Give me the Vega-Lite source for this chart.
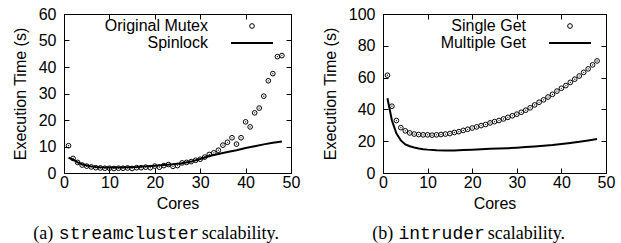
{
  "$schema": "https://vega.github.io/schema/vega-lite/v6.json",
  "padding": {"left": 11, "top": 5, "right": 5, "bottom": 0},
  "spacing": 20,
  "background": "white",
  "resolve": {"scale": {"color": "independent"}, "legend": {"color": "independent"}},
  "config": {
    "font": "Liberation Sans",
    "view": {"stroke": "black", "strokeWidth": 1},
    "axis": {
      "grid": false,
      "domainColor": "black",
      "tickColor": "black",
      "labelColor": "black",
      "titleColor": "black",
      "labelFont": "Liberation Sans",
      "titleFont": "Liberation Sans",
      "labelFontSize": 16,
      "titleFontSize": 16,
      "titleFontWeight": "normal",
      "tickSize": -5,
      "labelPadding": 13,
      "labelFlush": false,
      "labelOverlap": false
    },
    "axisX": {"labelPadding": 6},
    "legend": {
      "labelFont": "Liberation Sans",
      "labelFontSize": 16,
      "labelColor": "black",
      "labelAlign": "right",
      "labelOffset": -52,
      "padding": 0,
      "rowPadding": 1,
      "symbolSize": 1764,
      "symbolType": "stroke",
      "title": null
    },
    "title": {
      "orient": "bottom",
      "anchor": "middle",
      "frame": "bounds",
      "font": "Liberation Serif",
      "fontSize": 18,
      "fontWeight": "normal",
      "color": "black",
      "offset": 14,
      "subtitleFont": "Liberation Mono",
      "subtitleFontSize": 18,
      "subtitleColor": "black",
      "subtitlePadding": -18
    }
  },
  "datasets": {
    "sc_mutex": [
      {"cores": 1, "time": 10.3, "series": "Original Mutex"},
      {"cores": 2, "time": 5.5, "series": "Original Mutex"},
      {"cores": 3, "time": 4.0, "series": "Original Mutex"},
      {"cores": 4, "time": 3.0, "series": "Original Mutex"},
      {"cores": 5, "time": 2.6, "series": "Original Mutex"},
      {"cores": 6, "time": 2.3, "series": "Original Mutex"},
      {"cores": 7, "time": 2.0, "series": "Original Mutex"},
      {"cores": 8, "time": 1.9, "series": "Original Mutex"},
      {"cores": 9, "time": 1.8, "series": "Original Mutex"},
      {"cores": 10, "time": 1.8, "series": "Original Mutex"},
      {"cores": 11, "time": 1.7, "series": "Original Mutex"},
      {"cores": 12, "time": 1.8, "series": "Original Mutex"},
      {"cores": 13, "time": 1.8, "series": "Original Mutex"},
      {"cores": 14, "time": 1.9, "series": "Original Mutex"},
      {"cores": 15, "time": 1.7, "series": "Original Mutex"},
      {"cores": 16, "time": 2.0, "series": "Original Mutex"},
      {"cores": 17, "time": 2.0, "series": "Original Mutex"},
      {"cores": 18, "time": 2.2, "series": "Original Mutex"},
      {"cores": 19, "time": 2.0, "series": "Original Mutex"},
      {"cores": 20, "time": 2.6, "series": "Original Mutex"},
      {"cores": 21, "time": 2.2, "series": "Original Mutex"},
      {"cores": 22, "time": 2.8, "series": "Original Mutex"},
      {"cores": 23, "time": 3.2, "series": "Original Mutex"},
      {"cores": 24, "time": 2.5, "series": "Original Mutex"},
      {"cores": 25, "time": 2.8, "series": "Original Mutex"},
      {"cores": 26, "time": 3.8, "series": "Original Mutex"},
      {"cores": 27, "time": 4.0, "series": "Original Mutex"},
      {"cores": 28, "time": 4.3, "series": "Original Mutex"},
      {"cores": 29, "time": 4.8, "series": "Original Mutex"},
      {"cores": 30, "time": 5.2, "series": "Original Mutex"},
      {"cores": 31, "time": 6.0, "series": "Original Mutex"},
      {"cores": 32, "time": 7.0, "series": "Original Mutex"},
      {"cores": 33, "time": 7.6, "series": "Original Mutex"},
      {"cores": 34, "time": 8.6, "series": "Original Mutex"},
      {"cores": 35, "time": 10.5, "series": "Original Mutex"},
      {"cores": 36, "time": 11.6, "series": "Original Mutex"},
      {"cores": 37, "time": 13.3, "series": "Original Mutex"},
      {"cores": 38, "time": 10.9, "series": "Original Mutex"},
      {"cores": 39, "time": 13.3, "series": "Original Mutex"},
      {"cores": 40, "time": 19.3, "series": "Original Mutex"},
      {"cores": 41, "time": 17.4, "series": "Original Mutex"},
      {"cores": 42, "time": 22.7, "series": "Original Mutex"},
      {"cores": 43, "time": 24.5, "series": "Original Mutex"},
      {"cores": 44, "time": 29.0, "series": "Original Mutex"},
      {"cores": 45, "time": 34.8, "series": "Original Mutex"},
      {"cores": 46, "time": 37.5, "series": "Original Mutex"},
      {"cores": 47, "time": 43.9, "series": "Original Mutex"},
      {"cores": 48, "time": 44.3, "series": "Original Mutex"}
    ],
    "sc_spin": [
      {"cores": 1, "time": 5.8, "series": "Spinlock"},
      {"cores": 2, "time": 5.0, "series": "Spinlock"},
      {"cores": 3, "time": 4.0, "series": "Spinlock"},
      {"cores": 4, "time": 3.3, "series": "Spinlock"},
      {"cores": 5, "time": 2.8, "series": "Spinlock"},
      {"cores": 6, "time": 2.5, "series": "Spinlock"},
      {"cores": 7, "time": 2.3, "series": "Spinlock"},
      {"cores": 8, "time": 2.2, "series": "Spinlock"},
      {"cores": 10, "time": 2.1, "series": "Spinlock"},
      {"cores": 12, "time": 2.1, "series": "Spinlock"},
      {"cores": 14, "time": 2.2, "series": "Spinlock"},
      {"cores": 16, "time": 2.3, "series": "Spinlock"},
      {"cores": 18, "time": 2.5, "series": "Spinlock"},
      {"cores": 20, "time": 2.7, "series": "Spinlock"},
      {"cores": 22, "time": 3.0, "series": "Spinlock"},
      {"cores": 24, "time": 3.3, "series": "Spinlock"},
      {"cores": 26, "time": 3.7, "series": "Spinlock"},
      {"cores": 28, "time": 4.3, "series": "Spinlock"},
      {"cores": 30, "time": 5.3, "series": "Spinlock"},
      {"cores": 32, "time": 6.4, "series": "Spinlock"},
      {"cores": 34, "time": 7.2, "series": "Spinlock"},
      {"cores": 36, "time": 7.9, "series": "Spinlock"},
      {"cores": 38, "time": 8.6, "series": "Spinlock"},
      {"cores": 40, "time": 9.4, "series": "Spinlock"},
      {"cores": 42, "time": 10.1, "series": "Spinlock"},
      {"cores": 44, "time": 10.8, "series": "Spinlock"},
      {"cores": 46, "time": 11.4, "series": "Spinlock"},
      {"cores": 48, "time": 11.9, "series": "Spinlock"}
    ],
    "in_single": [
      {"cores": 1, "time": 61.5, "series": "Single Get"},
      {"cores": 2, "time": 42.0, "series": "Single Get"},
      {"cores": 3, "time": 33.0, "series": "Single Get"},
      {"cores": 4, "time": 28.5, "series": "Single Get"},
      {"cores": 5, "time": 26.5, "series": "Single Get"},
      {"cores": 6, "time": 25.2, "series": "Single Get"},
      {"cores": 7, "time": 24.5, "series": "Single Get"},
      {"cores": 8, "time": 24.2, "series": "Single Get"},
      {"cores": 9, "time": 24.0, "series": "Single Get"},
      {"cores": 10, "time": 24.0, "series": "Single Get"},
      {"cores": 11, "time": 23.8, "series": "Single Get"},
      {"cores": 12, "time": 24.0, "series": "Single Get"},
      {"cores": 13, "time": 24.2, "series": "Single Get"},
      {"cores": 14, "time": 24.5, "series": "Single Get"},
      {"cores": 15, "time": 24.8, "series": "Single Get"},
      {"cores": 16, "time": 25.5, "series": "Single Get"},
      {"cores": 17, "time": 26.0, "series": "Single Get"},
      {"cores": 18, "time": 26.8, "series": "Single Get"},
      {"cores": 19, "time": 27.5, "series": "Single Get"},
      {"cores": 20, "time": 28.3, "series": "Single Get"},
      {"cores": 21, "time": 29.0, "series": "Single Get"},
      {"cores": 22, "time": 29.8, "series": "Single Get"},
      {"cores": 23, "time": 30.5, "series": "Single Get"},
      {"cores": 24, "time": 31.5, "series": "Single Get"},
      {"cores": 25, "time": 32.3, "series": "Single Get"},
      {"cores": 26, "time": 33.0, "series": "Single Get"},
      {"cores": 27, "time": 34.0, "series": "Single Get"},
      {"cores": 28, "time": 35.0, "series": "Single Get"},
      {"cores": 29, "time": 36.0, "series": "Single Get"},
      {"cores": 30, "time": 37.0, "series": "Single Get"},
      {"cores": 31, "time": 38.2, "series": "Single Get"},
      {"cores": 32, "time": 39.5, "series": "Single Get"},
      {"cores": 33, "time": 41.0, "series": "Single Get"},
      {"cores": 34, "time": 42.8, "series": "Single Get"},
      {"cores": 35, "time": 44.5, "series": "Single Get"},
      {"cores": 36, "time": 46.0, "series": "Single Get"},
      {"cores": 37, "time": 47.8, "series": "Single Get"},
      {"cores": 38, "time": 49.5, "series": "Single Get"},
      {"cores": 39, "time": 51.5, "series": "Single Get"},
      {"cores": 40, "time": 53.3, "series": "Single Get"},
      {"cores": 41, "time": 55.0, "series": "Single Get"},
      {"cores": 42, "time": 57.0, "series": "Single Get"},
      {"cores": 43, "time": 59.0, "series": "Single Get"},
      {"cores": 44, "time": 61.0, "series": "Single Get"},
      {"cores": 45, "time": 63.3, "series": "Single Get"},
      {"cores": 46, "time": 65.5, "series": "Single Get"},
      {"cores": 47, "time": 68.0, "series": "Single Get"},
      {"cores": 48, "time": 70.5, "series": "Single Get"}
    ],
    "in_multi": [
      {"cores": 1, "time": 47.0, "series": "Multiple Get"},
      {"cores": 2, "time": 33.0, "series": "Multiple Get"},
      {"cores": 3, "time": 25.0, "series": "Multiple Get"},
      {"cores": 4, "time": 20.5, "series": "Multiple Get"},
      {"cores": 5, "time": 18.0, "series": "Multiple Get"},
      {"cores": 6, "time": 16.8, "series": "Multiple Get"},
      {"cores": 7, "time": 16.0, "series": "Multiple Get"},
      {"cores": 8, "time": 15.4, "series": "Multiple Get"},
      {"cores": 9, "time": 15.0, "series": "Multiple Get"},
      {"cores": 10, "time": 14.7, "series": "Multiple Get"},
      {"cores": 12, "time": 14.3, "series": "Multiple Get"},
      {"cores": 14, "time": 14.1, "series": "Multiple Get"},
      {"cores": 16, "time": 14.2, "series": "Multiple Get"},
      {"cores": 18, "time": 14.4, "series": "Multiple Get"},
      {"cores": 20, "time": 14.6, "series": "Multiple Get"},
      {"cores": 22, "time": 14.9, "series": "Multiple Get"},
      {"cores": 24, "time": 15.2, "series": "Multiple Get"},
      {"cores": 26, "time": 15.4, "series": "Multiple Get"},
      {"cores": 28, "time": 15.6, "series": "Multiple Get"},
      {"cores": 30, "time": 15.9, "series": "Multiple Get"},
      {"cores": 32, "time": 16.3, "series": "Multiple Get"},
      {"cores": 34, "time": 16.7, "series": "Multiple Get"},
      {"cores": 36, "time": 17.2, "series": "Multiple Get"},
      {"cores": 38, "time": 17.6, "series": "Multiple Get"},
      {"cores": 40, "time": 18.2, "series": "Multiple Get"},
      {"cores": 42, "time": 18.9, "series": "Multiple Get"},
      {"cores": 44, "time": 19.6, "series": "Multiple Get"},
      {"cores": 46, "time": 20.5, "series": "Multiple Get"},
      {"cores": 48, "time": 21.4, "series": "Multiple Get"}
    ]
  },
  "hconcat": [
    {
      "width": 227,
      "height": 159,
      "title": {"text": "(a)\u00a0\u00a0\u00a0\u00a0\u00a0\u00a0\u00a0\u00a0\u00a0\u00a0\u00a0\u00a0\u00a0\u00a0\u00a0\u00a0\u00a0\u00a0\u00a0\u00a0\u00a0\u00a0\u00a0\u00a0\u00a0\u00a0\u00a0\u00a0\u00a0\u00a0\u00a0\u00a0\u00a0scalability.", "subtitle": "streamcluster\u00a0\u00a0\u00a0\u00a0\u00a0\u2060"},
      "resolve": {"axis": {"x": "independent", "y": "independent"}},
      "layer": [
        {
          "data": {"name": "sc_spin"},
          "mark": {"type": "line", "strokeWidth": 2},
          "encoding": {
            "x": {"field": "cores", "type": "quantitative", "scale": {"domain": [0, 50], "nice": false}, "axis": {"title": "Cores", "values": [0, 10, 20, 30, 40, 50], "titlePadding": 5}},
            "y": {"field": "time", "type": "quantitative", "scale": {"domain": [0, 60], "nice": false}, "axis": {"title": "Execution Time (s)", "values": [0, 10, 20, 30, 40, 50, 60], "titlePadding": 10}},
            "color": {
              "field": "series", "type": "nominal",
              "scale": {"domain": ["Original Mutex", "Spinlock"], "range": ["black", "black"]},
              "legend": {
                "orient": "none", "legendX": 180, "legendY": 4,
                "encode": {"symbols": {"update": {
                  "shape": {"signal": "datum.label === 'Spinlock' ? 'stroke' : 'circle'"},
                  "size": {"signal": "datum.label === 'Spinlock' ? 1764 : 22"},
                  "strokeWidth": {"signal": "datum.label === 'Spinlock' ? 2 : 1"},
                  "stroke": {"value": "black"},
                  "fill": {"value": "transparent"},
                  "opacity": {"value": 1}
                }}}
              }
            }
          }
        },
        {
          "data": {"name": "sc_mutex"},
          "mark": {"type": "point", "filled": false, "strokeWidth": 1, "opacity": 1},
          "encoding": {
            "x": {"field": "cores", "type": "quantitative", "axis": {"orient": "top", "title": null, "labels": false, "values": [0, 10, 20, 30, 40, 50]}},
            "y": {"field": "time", "type": "quantitative", "axis": {"orient": "right", "title": null, "labels": false, "values": [0, 10, 20, 30, 40, 50, 60]}},
            "size": {"value": 22},
            "color": {"field": "series", "type": "nominal"}
          }
        },
        {
          "data": {"name": "sc_mutex"},
          "mark": {"type": "point", "filled": true, "color": "black", "opacity": 1},
          "encoding": {
            "x": {"field": "cores", "type": "quantitative", "axis": null},
            "y": {"field": "time", "type": "quantitative", "axis": null},
            "size": {"value": 1.5}
          }
        }
      ]
    },
    {
      "width": 223,
      "height": 159,
      "title": {"text": "(b)\u00a0\u00a0\u00a0\u00a0\u00a0\u00a0\u00a0\u00a0\u00a0\u00a0\u00a0\u00a0\u00a0\u00a0\u00a0\u00a0\u00a0\u00a0\u00a0\u00a0\u00a0scalability.", "subtitle": "intruder\u00a0\u00a0\u00a0\u00a0\u00a0\u2060"},
      "resolve": {"axis": {"x": "independent", "y": "independent"}},
      "layer": [
        {
          "data": {"name": "in_multi"},
          "mark": {"type": "line", "strokeWidth": 2},
          "encoding": {
            "x": {"field": "cores", "type": "quantitative", "scale": {"domain": [0, 50], "nice": false}, "axis": {"title": "Cores", "values": [0, 10, 20, 30, 40, 50], "titlePadding": 5}},
            "y": {"field": "time", "type": "quantitative", "scale": {"domain": [0, 100], "nice": false}, "axis": {"title": "Execution Time (s)", "values": [0, 20, 40, 60, 80, 100], "titlePadding": 10}},
            "color": {
              "field": "series", "type": "nominal",
              "scale": {"domain": ["Single Get", "Multiple Get"], "range": ["black", "black"]},
              "legend": {
                "orient": "none", "legendX": 179, "legendY": 4,
                "encode": {"symbols": {"update": {
                  "shape": {"signal": "datum.label === 'Multiple Get' ? 'stroke' : 'circle'"},
                  "size": {"signal": "datum.label === 'Multiple Get' ? 1764 : 22"},
                  "strokeWidth": {"signal": "datum.label === 'Multiple Get' ? 2 : 1"},
                  "stroke": {"value": "black"},
                  "fill": {"value": "transparent"},
                  "opacity": {"value": 1}
                }}}
              }
            }
          }
        },
        {
          "data": {"name": "in_single"},
          "mark": {"type": "point", "filled": false, "strokeWidth": 1, "opacity": 1},
          "encoding": {
            "x": {"field": "cores", "type": "quantitative", "axis": {"orient": "top", "title": null, "labels": false, "values": [0, 10, 20, 30, 40, 50]}},
            "y": {"field": "time", "type": "quantitative", "axis": {"orient": "right", "title": null, "labels": false, "values": [0, 20, 40, 60, 80, 100]}},
            "size": {"value": 22},
            "color": {"field": "series", "type": "nominal"}
          }
        },
        {
          "data": {"name": "in_single"},
          "mark": {"type": "point", "filled": true, "color": "black", "opacity": 1},
          "encoding": {
            "x": {"field": "cores", "type": "quantitative", "axis": null},
            "y": {"field": "time", "type": "quantitative", "axis": null},
            "size": {"value": 1.5}
          }
        }
      ]
    }
  ]
}
